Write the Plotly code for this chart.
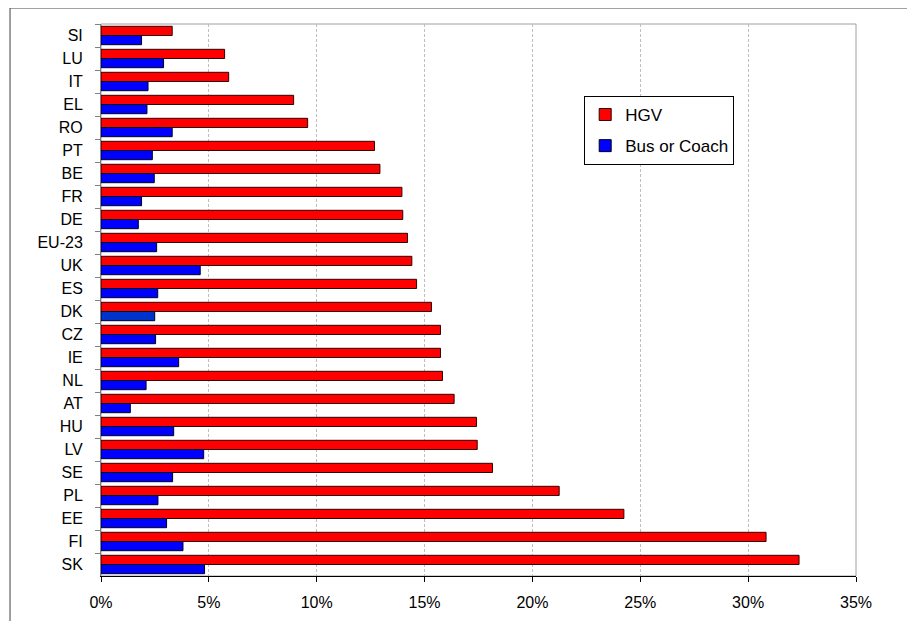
import plotly.graph_objects as go

# countries, listed top to bottom as in the chart
countries = ["SI", "LU", "IT", "EL", "RO", "PT", "BE", "FR", "DE", "EU-23", "UK", "ES",
             "DK", "CZ", "IE", "NL", "AT", "HU", "LV", "SE", "PL", "EE", "FI", "SK"]

hgv = [3.3, 5.73, 5.92, 8.93, 9.58, 12.68, 12.93, 13.95, 13.99, 14.21, 14.41, 14.63,
       15.32, 15.74, 15.74, 15.83, 16.37, 17.41, 17.44, 18.15, 21.24, 24.24, 30.83, 32.36]

bus = [1.88, 2.9, 2.18, 2.13, 3.3, 2.38, 2.47, 1.88, 1.73, 2.58, 4.6, 2.63,
       2.49, 2.53, 3.6, 2.09, 1.36, 3.37, 4.76, 3.32, 2.64, 3.04, 3.8, 4.8]

x_ticks = [0, 5, 10, 15, 20, 25, 30, 35]

# DK's bus bar is a slightly different blue in the original
bus_colors = ["#0033CC" if c == "DK" else "#0000FF" for c in countries]

family = "Liberation Sans, Arial, sans-serif"

fig = go.Figure()
fig.add_trace(go.Bar(y=countries, x=hgv, name="HGV", orientation="h", legendgroup="hgv",
                     marker=dict(color="#FF0000", line=dict(color="#330000", width=1))))
fig.add_trace(go.Bar(y=countries, x=bus, name="Bus or Coach", orientation="h", legendgroup="bus",
                     marker=dict(color=bus_colors, line=dict(color="#000022", width=1))))

# the page puts the figure 8px in from the top-left, so size it 8px smaller
fig.update_layout(
    width=907, height=613,
    margin=dict(l=93, r=59, t=16, b=45, autoexpand=False),
    paper_bgcolor="white", plot_bgcolor="white",
    barmode="group", bargap=0.2, bargroupgap=0,
    font=dict(family=family, size=16, color="#000"),
    showlegend=True,
    legend=dict(x=0.640, y=0.8696, xanchor="left", yanchor="top",
                bgcolor="white", bordercolor="#000", borderwidth=1,
                font=dict(family=family, size=17),
                itemwidth=30, tracegroupgap=6),
)

fig.update_xaxes(
    range=[0, 35], tickvals=x_ticks, ticktext=[f"{v}%" for v in x_ticks],
    showgrid=True, gridcolor="#BFBFBF", griddash="3px,2px", gridwidth=1,
    showline=True, linecolor="#000", linewidth=1,
    ticks="outside", ticklen=5, tickcolor="#000", ticklabelstandoff=7,
    zeroline=False,
)
fig.update_yaxes(
    range=[23.5, -0.5], type="category",
    showline=True, linecolor="#808080", linewidth=1,
    ticks="outside", ticklen=5, tickcolor="#808080", tickson="boundaries",
    ticklabelstandoff=14, showgrid=False,
)

# plot area frame (gray top/right) and outer chart frame
fig.add_shape(type="rect", xref="paper", yref="paper", x0=0, x1=1, y0=0, y1=1,
              line=dict(color="#A0A0A0", width=1), layer="below")
fig.add_shape(type="rect", xref="paper", yref="paper",
              x0=-0.1205, x1=1.0728, y0=-0.1, y1=1.029,
              line=dict(color="#404040", width=1))

fig.write_html("out.html")
